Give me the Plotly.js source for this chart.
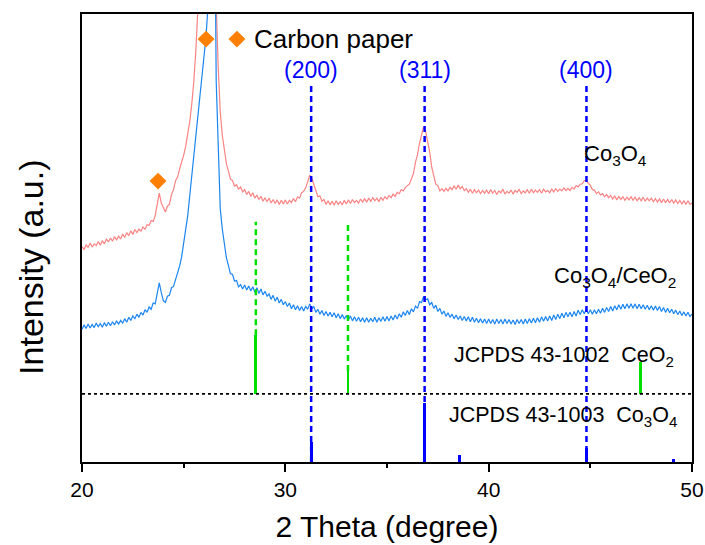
<!DOCTYPE html>
<html>
<head>
<meta charset="utf-8">
<script src="https://cdn.plot.ly/plotly-3.0.1.min.js"></script>
<style>html,body{margin:0;padding:0;background:#fff;}#chart{width:705px;height:545px;}</style>
</head>
<body>
<div id="chart"></div>
<script>
// ---- data (intensity in arbitrary units, 0-100 display scale) ----
const twoTheta = [
20.0,20.1,20.2,20.3,20.4,20.5,20.6,20.7,20.8,20.9,
21.0,21.1,21.2,21.3,21.4,21.5,21.6,21.7,21.8,21.9,
22.0,22.1,22.2,22.3,22.4,22.5,22.6,22.7,22.8,22.9,
23.0,23.1,23.2,23.3,23.4,23.5,23.6,23.7,23.8,23.9,
24.0,24.1,24.2,24.3,24.4,24.5,24.6,24.7,24.8,24.9,
25.0,25.1,25.2,25.3,25.4,25.5,25.6,25.7,25.8,25.9,
26.0,26.1,26.2,26.3,26.4,26.5,26.6,26.7,26.8,26.9,
27.0,27.1,27.2,27.3,27.4,27.5,27.6,27.7,27.8,27.9,
28.0,28.1,28.2,28.3,28.4,28.5,28.6,28.7,28.8,28.9,
29.0,29.1,29.2,29.3,29.4,29.5,29.6,29.7,29.8,29.9,
30.0,30.1,30.2,30.3,30.4,30.5,30.6,30.7,30.8,30.9,
31.0,31.1,31.2,31.3,31.4,31.5,31.6,31.7,31.8,31.9,
32.0,32.1,32.2,32.3,32.4,32.5,32.6,32.7,32.8,32.9,
33.0,33.1,33.2,33.3,33.4,33.5,33.6,33.7,33.8,33.9,
34.0,34.1,34.2,34.3,34.4,34.5,34.6,34.7,34.8,34.9,
35.0,35.1,35.2,35.3,35.4,35.5,35.6,35.7,35.8,35.9,
36.0,36.1,36.2,36.3,36.4,36.5,36.6,36.7,36.8,36.9,
37.0,37.1,37.2,37.3,37.4,37.5,37.6,37.7,37.8,37.9,
38.0,38.1,38.2,38.3,38.4,38.5,38.6,38.7,38.8,38.9,
39.0,39.1,39.2,39.3,39.4,39.5,39.6,39.7,39.8,39.9,
40.0,40.1,40.2,40.3,40.4,40.5,40.6,40.7,40.8,40.9,
41.0,41.1,41.2,41.3,41.4,41.5,41.6,41.7,41.8,41.9,
42.0,42.1,42.2,42.3,42.4,42.5,42.6,42.7,42.8,42.9,
43.0,43.1,43.2,43.3,43.4,43.5,43.6,43.7,43.8,43.9,
44.0,44.1,44.2,44.3,44.4,44.5,44.6,44.7,44.8,44.9,
45.0,45.1,45.2,45.3,45.4,45.5,45.6,45.7,45.8,45.9,
46.0,46.1,46.2,46.3,46.4,46.5,46.6,46.7,46.8,46.9,
47.0,47.1,47.2,47.3,47.4,47.5,47.6,47.7,47.8,47.9,
48.0,48.1,48.2,48.3,48.4,48.5,48.6,48.7,48.8,48.9,
49.0,49.1,49.2,49.3,49.4,49.5,49.6,49.7,49.8,49.9,
50.0];

const co3o4Intensity = [
48.1,47.4,48.5,47.9,48.9,48.0,48.7,48.3,49.2,48.4,
49.4,48.7,49.8,49.1,50.0,49.3,50.3,49.6,50.4,49.8,
50.9,50.1,51.2,50.5,51.6,50.8,51.9,51.2,52.0,51.5,
52.5,51.9,53.0,52.8,53.9,53.7,55.0,57.2,60.0,57.8,
56.8,55.8,57.1,57.5,59.7,60.8,62.8,63.6,65.4,66.8,
68.5,70.5,73,76,80,85,92,99,108,120,
135,150,170,180,185,160,102,88,78,73,
69.7,66.6,65.0,63.2,62.8,61.6,61.9,60.9,61.4,60.3,
60.8,59.7,60.4,59.3,60.1,58.9,59.6,58.6,59.3,58.2,
59.0,58.1,58.9,57.8,58.6,57.7,58.5,57.5,58.4,57.6,
58.5,57.6,58.4,57.9,58.8,58.1,59.2,58.9,60.1,60.4,
61.2,62.4,64.0,63.4,61.8,60.6,59.2,59.4,58.2,58.6,
57.5,58.3,57.4,58.2,57.3,58.3,57.5,58.1,57.4,58.4,
57.6,58.5,57.7,58.6,57.9,58.4,57.8,58.7,58.0,58.8,
58.0,58.9,58.2,59.0,58.3,58.9,58.1,59.1,58.4,59.2,
58.7,59.5,59.0,59.8,59.3,60.2,59.9,60.8,60.5,61.3,
61.7,62.0,63.2,64.4,66.9,68.6,71.2,73.0,74.8,73.8,
71.8,69.2,65.8,64.2,62.0,61.7,60.5,61.0,60.4,61.1,
60.5,61.3,60.8,61.6,60.9,61.8,61.0,61.5,60.6,61.0,
60.2,60.9,60.0,60.8,60.1,60.7,59.9,60.6,60.0,60.7,
59.9,60.8,60.0,60.6,59.7,60.5,60.1,60.9,59.8,60.4,
60.0,60.7,59.8,60.6,60.2,60.9,59.9,60.5,60.1,60.8,
60.0,60.9,60.1,60.7,60.2,60.8,60.0,60.9,60.3,60.6,
60.1,60.9,60.3,61.0,60.4,60.9,60.5,61.2,60.6,61.1,
60.6,61.3,60.9,61.7,61.4,62.0,62.1,62.8,62.9,62.2,
61.8,60.8,60.7,59.9,60.3,59.6,59.9,59.2,59.7,59.0,
59.5,58.7,59.4,58.5,59.3,58.6,59.2,58.4,59.1,58.5,
59.2,58.4,59.1,58.3,59.0,58.3,59.1,58.2,58.9,58.3,
58.9,58.1,58.8,58.0,58.7,57.9,58.7,57.9,58.6,57.8,
58.6,57.8,58.5,57.7,58.4,57.6,58.3,57.5,58.3,57.5,
57.8];

const co3o4CeO2Intensity = [
29.6,30.6,29.8,30.8,29.9,30.7,30.0,31.0,30.2,30.9,
30.1,31.1,30.3,31.2,30.4,31.3,30.6,31.5,30.8,31.6,
31.0,32.0,31.2,32.3,31.6,32.6,32.0,33.0,32.3,33.4,
32.8,34.0,33.4,34.6,34.1,35.5,35.3,37.3,40.0,37.8,
36.0,35.6,37.0,37.2,38.9,39.2,40.8,41.8,43.7,45.8,
49,52,55,59.5,64,68.5,73,77,81,85.5,
90,95,102,125,150,140,85,68,56.5,52,
48.7,45.6,43.9,42.0,41.9,40.4,40.5,39.1,39.6,38.6,
39.5,38.4,39.3,38.2,39.1,37.9,38.9,37.6,38.6,37.3,
38.1,37.0,37.5,36.3,37.2,35.9,36.8,35.5,36.3,35.1,
35.8,34.7,35.5,34.2,35.1,34.0,34.9,33.8,34.7,33.7,
34.7,34.1,35.3,34.2,34.7,33.4,34.1,33.0,33.8,32.7,
33.6,32.6,33.4,32.4,33.3,32.2,33.1,32.0,32.9,31.9,
32.7,31.7,32.6,31.5,32.4,31.4,32.3,31.3,32.2,31.2,
32.2,31.2,32.1,31.3,32.3,31.2,32.2,31.4,32.4,31.4,
32.5,31.5,32.6,31.7,32.8,31.9,33.1,32.3,33.5,32.7,
33.8,32.9,34.2,33.5,34.8,34.3,35.8,35.6,36.9,36.2,
36.4,35.1,35.6,34.3,35.0,33.6,34.3,33.0,33.7,32.5,
33.3,32.3,33.0,32.0,32.8,31.8,32.6,31.6,32.5,31.5,
32.4,31.3,32.3,31.2,32.1,31.1,32.0,31.0,31.9,30.9,
31.9,30.9,31.8,30.8,31.9,30.9,31.8,30.8,31.9,30.9,
31.8,30.8,31.7,30.7,31.8,30.9,31.8,30.8,31.9,30.9,
32.0,31.0,32.1,31.1,32.2,31.2,32.4,31.4,32.5,31.5,
32.6,31.6,32.8,31.8,33.0,32.0,33.2,32.2,33.4,32.4,
33.4,32.4,33.6,32.6,33.9,32.9,34.0,33.1,34.1,33.1,
34.0,33.0,34.0,33.1,34.1,33.2,34.3,33.4,34.5,33.6,
34.7,33.7,34.9,34.0,35.1,34.1,35.2,34.2,35.3,34.3,
35.3,34.3,35.3,34.2,35.2,34.2,35.1,34.1,35.0,34.0,
34.9,33.9,34.8,33.8,34.7,33.6,34.5,33.4,34.3,33.3,
34.1,33.1,33.9,32.9,33.7,32.7,33.5,32.6,33.4,32.5,
33.0];

// JCPDS 43-1003 Co3O4 reference lines
const co3o4RefPos = [31.27, 36.85, 38.55, 44.81, 49.09];
const co3o4RefInt = [4.4, 13.2, 1.6, 3.1, 0.6];
// JCPDS 43-1002 CeO2 reference lines (drawn above separator)
const ceo2RefPos = [28.55, 33.08, 47.48];
const ceo2RefInt = [13.1, 5.1, 7.1];
const refSeparator = [15.2];

// guide lines
const co3o4Planes = ['(200)', '(311)', '(400)'];
const co3o4PlanePos = [31.27, 36.85, 44.81];
const planeLineTop = [84.8];
const ceo2GuidePos = [28.55, 33.08];
const ceo2GuideTop = [53.6];

// carbon paper markers
const carbonX = [26.1, 23.74];
const carbonY = [94.4, 62.7];
const carbonLegendX = [27.62];
const carbonLegendY = [94.4];

const FONT = 'Arial, "Liberation Sans", sans-serif';
const traces = [];

traces.push({x: twoTheta, y: co3o4Intensity, type: 'scatter', mode: 'lines',
  line: {color: '#F88484', width: 1.2}, hoverinfo: 'skip'});
traces.push({x: twoTheta, y: co3o4CeO2Intensity, type: 'scatter', mode: 'lines',
  line: {color: '#1C86F0', width: 1.2}, hoverinfo: 'skip'});

// reference sticks
traces.push({x: co3o4RefPos, y: co3o4RefInt, type: 'bar', width: 0.14,
  marker: {color: '#0000FF', line: {width: 0}}, hoverinfo: 'skip'});
traces.push({x: ceo2RefPos, y: ceo2RefInt, base: ceo2RefPos.map(() => refSeparator[0]), type: 'bar', width: 0.14,
  marker: {color: '#00E000', line: {width: 0}}, hoverinfo: 'skip'});

// separator dotted line
traces.push({x: [twoTheta[0], twoTheta[twoTheta.length - 1]], y: [refSeparator[0], refSeparator[0]],
  type: 'scatter', mode: 'lines', line: {color: '#000', width: 1.6, dash: '3px,3px'}, hoverinfo: 'skip'});

// blue dashed plane lines
const bx = [], by = [];
co3o4PlanePos.forEach(p => { bx.push(p, p, null); by.push(0, planeLineTop[0], null); });
traces.push({x: bx, y: by, type: 'scatter', mode: 'lines',
  line: {color: '#0000FF', width: 2.5, dash: '6px,4px'}, hoverinfo: 'skip'});

// green dashed guide lines
const gx = [], gy = [];
ceo2GuidePos.forEach(p => {
  const i = ceo2RefPos.indexOf(p);
  gx.push(p, p, null); gy.push(refSeparator[0] + ceo2RefInt[i], ceo2GuideTop[0], null);
});
traces.push({x: gx, y: gy, type: 'scatter', mode: 'lines',
  line: {color: '#00E000', width: 2.5, dash: '6px,4px'}, hoverinfo: 'skip'});

// carbon paper diamonds
traces.push({x: carbonX.concat(carbonLegendX), y: carbonY.concat(carbonLegendY), type: 'scatter', mode: 'markers',
  marker: {symbol: 'diamond', color: '#FF7F00', size: 13}, hoverinfo: 'skip'});

const annotations = [
  {x: 28.35, y: carbonLegendY[0], xref: 'x', yref: 'y', xanchor: 'left', yanchor: 'middle',
   text: 'Carbon paper', showarrow: false, font: {family: FONT, size: 26, color: '#000'}},
  {x: 44.6, y: 68.5, xref: 'x', yref: 'y', xanchor: 'left', yanchor: 'middle',
   text: 'Co<sub>3</sub>O<sub>4</sub>', showarrow: false, font: {family: FONT, size: 22, color: '#000'}},
  {x: 43.1, y: 41.3, xref: 'x', yref: 'y', xanchor: 'left', yanchor: 'middle',
   text: 'Co<sub>3</sub>O<sub>4</sub>/CeO<sub>2</sub>', showarrow: false, font: {family: FONT, size: 22, color: '#000'}},
  {x: 38.2, y: 23.6, xref: 'x', yref: 'y', xanchor: 'left', yanchor: 'middle',
   text: 'JCPDS 43-1002\u00A0\u00A0CeO<sub>2</sub>', showarrow: false, font: {family: FONT, size: 21.5, color: '#000'}},
  {x: 37.95, y: 10.2, xref: 'x', yref: 'y', xanchor: 'left', yanchor: 'middle',
   text: 'JCPDS 43-1003\u00A0\u00A0Co<sub>3</sub>O<sub>4</sub>', showarrow: false, font: {family: FONT, size: 21.5, color: '#000'}},
  // y-axis title (placed like the reference, slightly below plot centre)
  {x: -0.084, y: 0.435, xref: 'paper', yref: 'paper', xanchor: 'center', yanchor: 'middle', textangle: -90,
   text: 'Intensity (a.u.)', showarrow: false, font: {family: FONT, size: 34, color: '#000'}}
];
co3o4Planes.forEach((t, i) => annotations.push({
  x: co3o4PlanePos[i], y: 87.6, xref: 'x', yref: 'y', xanchor: 'center', yanchor: 'middle',
  text: t, showarrow: false, font: {family: FONT, size: 23, color: '#0000FF'}
}));

const layout = {
  width: 705, height: 545,
  margin: {l: 82, r: 13, t: 14, b: 83},
  paper_bgcolor: '#fff', plot_bgcolor: '#fff',
  showlegend: false,
  font: {family: FONT, color: '#000'},
  xaxis: {
    range: [20, 50], dtick: 10, tick0: 20,
    ticks: 'outside', ticklen: 8, tickwidth: 2, tickcolor: '#000',
    minor: {dtick: 5, tick0: 20, ticks: 'outside', ticklen: 4, tickwidth: 2, tickcolor: '#000', showgrid: false},
    showline: true, linewidth: 2, linecolor: '#000', mirror: true,
    showgrid: false, zeroline: false,
    tickfont: {family: FONT, size: 21, color: '#000'},
    title: {text: '2 Theta (degree)', font: {family: FONT, size: 30, color: '#000'}, standoff: 16}
  },
  yaxis: {
    range: [0, 100], showticklabels: false, ticks: '',
    showline: true, linewidth: 2, linecolor: '#000', mirror: true,
    showgrid: false, zeroline: false
  },
  bargap: 0,
  annotations: annotations
};

Plotly.newPlot('chart', traces, layout, {staticPlot: true, displayModeBar: false});
</script>
</body>
</html>
